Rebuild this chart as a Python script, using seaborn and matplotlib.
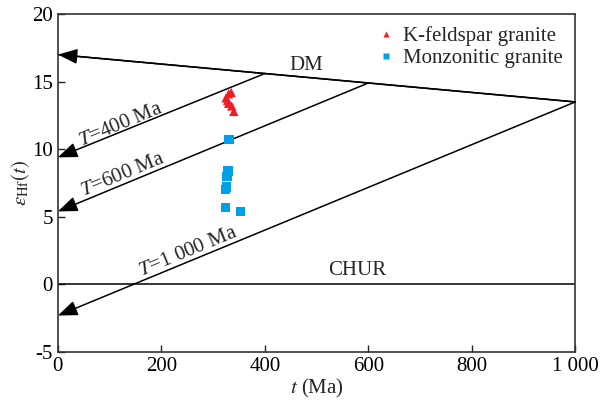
import numpy as np
import pandas as pd
import matplotlib
matplotlib.use('Agg')
import matplotlib.pyplot as plt
import seaborn as sns

# ---- data ----
kf_t = [325, 330, 335, 330, 336, 340, 328]
kf_e = [13.8, 14.1, 14.2, 13.4, 13.2, 12.8, 13.6]

mz_t = [331, 329, 327, 326, 324, 324, 353]
mz_e = [10.7, 8.4, 8.0, 7.2, 7.0, 5.7, 5.4]

dm_t = [0, 1000]
dm_e = [17.0, 13.5]

model_T = [400, 600, 1000]
model_start = [15.6, 14.9, 13.5]   # eps at t = T (on DM)
model_end = [9.4, 5.4, -2.3]       # eps at t = 0
model_labels = ['400 Ma', '600 Ma', '1 000 Ma']
label_t = [122, 126, 251]
label_e = [11.8, 8.1, 2.4]

x_ticks = [0, 200, 400, 600, 800, 1000]
x_ticklabels = ['0', '200', '400', '600', '800', '1 000']
y_ticks = [-5, 0, 5, 10, 15, 20]

df = pd.DataFrame({
    't': kf_t + mz_t,
    'eps': kf_e + mz_e,
    'rock': ['K-feldspar granite'] * len(kf_t) + ['Monzonitic granite'] * len(mz_t),
})

sns.set_style('ticks')
plt.rcParams['font.family'] = ['Liberation Serif', 'DejaVu Serif']
plt.rcParams['mathtext.fontset'] = 'stix'
plt.rcParams['axes.unicode_minus'] = False

FS = 15

fig = plt.figure(figsize=(6.03, 4.01), dpi=100)
ax = fig.add_axes([0.096, 0.122, 0.858, 0.843])

# DM and CHUR
ax.plot([dm_t[0], dm_t[1]], [dm_e[0], dm_e[1]], color='black', lw=1.1)
ax.axhline(0, color='black', lw=1.1)

arrow_kw = dict(arrowstyle='-|>,head_length=0.85,head_width=0.33', color='black',
                lw=1.1, shrinkA=0, shrinkB=0, mutation_scale=14)
ax.annotate('', xy=(0, dm_e[0]), xytext=(dm_t[1], dm_e[1]), arrowprops=arrow_kw,
            annotation_clip=False)

for T, e1, e0, lab, lt, le in zip(model_T, model_start, model_end, model_labels, label_t, label_e):
    ax.annotate('', xy=(0, e0), xytext=(T, e1), arrowprops=arrow_kw, annotation_clip=False)
    ax.text(lt, le, r'$T$=' + lab, rotation=22.5, ha='center', va='center',
            fontsize=FS, rotation_mode='anchor')

ax.text(480, 16.2, 'DM', fontsize=FS, ha='center', va='center')
ax.text(578, 1.05, 'CHUR', fontsize=FS, ha='center', va='center')

sns.scatterplot(data=df, x='t', y='eps', hue='rock', style='rock',
                palette={'K-feldspar granite': '#ee1c25', 'Monzonitic granite': '#00a0e9'},
                markers={'K-feldspar granite': '^', 'Monzonitic granite': 's'},
                s=45, edgecolor='none', ax=ax, zorder=3)

ax.set_xlim(0, 1000)
ax.set_ylim(-5, 20)
ax.set_xticks(x_ticks)
ax.set_xticklabels(x_ticklabels)
ax.set_yticks(y_ticks)
ax.tick_params(direction='in', length=5, width=1, labelsize=FS, top=False, right=False,
               colors='#222222', labelcolor='black')
for sp in ax.spines.values():
    sp.set_visible(True)
    sp.set_linewidth(1.2)
    sp.set_color('#333333')

ax.set_xlabel(r'$t$ (Ma)', fontsize=FS, labelpad=1)
ax.set_ylabel(r'$\varepsilon_{\mathrm{Hf}}(t)$', fontsize=FS, labelpad=0)

leg = ax.legend(loc='upper right', frameon=False, fontsize=FS, markerscale=0.7,
                handletextpad=0.3, borderaxespad=0.2, labelspacing=0.1, handlelength=1.0)

fig.savefig('out.png', dpi=100)
